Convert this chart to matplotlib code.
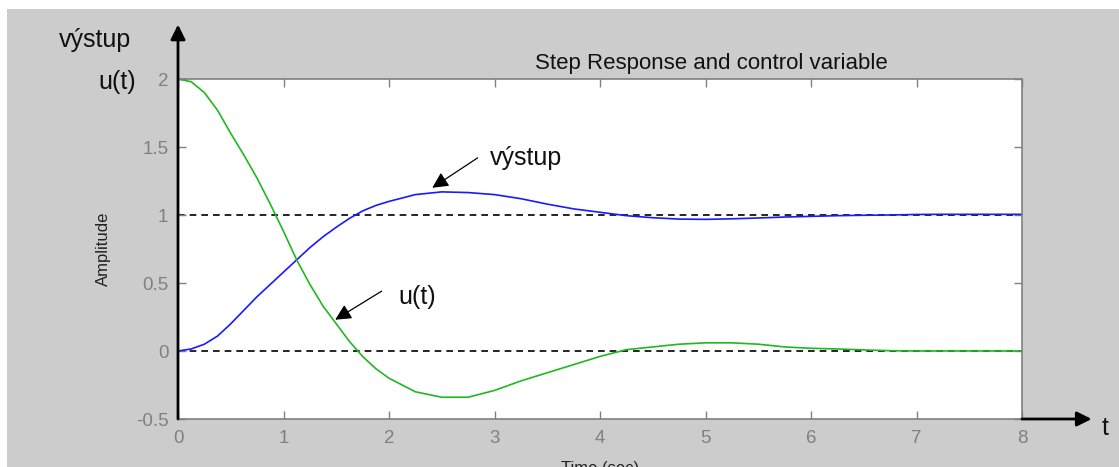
import numpy as np
import matplotlib
matplotlib.use("Agg")
import matplotlib.pyplot as plt
from matplotlib.patches import Rectangle

plt.rcParams['font.family'] = ['Liberation Sans', 'DejaVu Sans']

# ---- data ----
t = [0, 0.125, 0.25, 0.375, 0.5, 0.625, 0.75, 0.875, 1.0, 1.125, 1.25, 1.375, 1.5,
     1.625, 1.75, 1.875, 2.0, 2.25, 2.5, 2.75, 3.0, 3.25,
     3.5, 3.75, 4.0, 4.25, 4.5, 4.75, 5.0, 5.25, 5.5, 5.75, 6.0, 6.25, 6.5, 6.75,
     7.0, 7.25, 7.5, 7.75, 8.0]
vystup = [0.0, 0.015, 0.05, 0.11, 0.20, 0.30, 0.40, 0.49, 0.58, 0.67, 0.76, 0.84, 0.91,
          0.975, 1.03, 1.07, 1.10, 1.15, 1.17, 1.165,
          1.15, 1.12, 1.08, 1.045, 1.02, 0.995, 0.98, 0.97, 0.968, 0.972, 0.978,
          0.985, 0.99, 0.995, 0.998, 1.0, 1.004, 1.005, 1.005, 1.005, 1.005]
u = [2.0, 1.98, 1.90, 1.77, 1.60, 1.44, 1.27, 1.08, 0.88, 0.67, 0.49, 0.33, 0.20,
     0.07, -0.04, -0.13, -0.20, -0.30, -0.34, -0.34,
     -0.29, -0.22, -0.16, -0.10, -0.04, 0.01, 0.03, 0.05, 0.06, 0.06, 0.05, 0.03,
     0.02, 0.015, 0.008, 0.002, 0.0, 0.0, 0.0, 0.0, 0.0]
reference_levels = [0, 1]
xticks = [0, 1, 2, 3, 4, 5, 6, 7, 8]
yticks = [-0.5, 0, 0.5, 1, 1.5, 2]
ytick_labels = ['-0.5', '0', '0.5', '1', '1.5', '2']

W, H = 1119, 467
fig = plt.figure(figsize=(W / 100, H / 100), dpi=100)
fig.patch.set_facecolor('white')
fig.add_artist(Rectangle((7 / W, 0), 1 - 7 / W, 1 - 9 / H, transform=fig.transFigure,
                         facecolor='#cccccc', edgecolor='none', zorder=-10))

ax = fig.add_axes([178 / W, 1 - 419 / H, (1022 - 178) / W, (419 - 79) / H])
ax.set_facecolor('white')

for lvl in reference_levels:
    ax.plot([0, 8], [lvl, lvl], color='black', ls=(0, (4, 3)), lw=1.2, zorder=1)
ax.plot(t, vystup, color='#1a1aff', lw=1.2, zorder=2)
ax.plot(t, u, color='#1fb81f', lw=1.2, zorder=2)

ax.set_xlim(0, 8)
ax.set_ylim(-0.5, 2)
ax.set_xticks(xticks)
ax.set_yticks(yticks)
ax.set_yticklabels(ytick_labels)
ax.tick_params(direction='in', length=6, width=1, colors='#808080',
               labelsize=13.5, top=True, right=True)
ax.tick_params(axis='x', pad=8)
ax.tick_params(axis='y', pad=7)
for sp in ax.spines.values():
    sp.set_color('#808080')
    sp.set_linewidth(1.2)

ax.set_ylabel('Amplitude', fontsize=12, color='#222222', labelpad=18)
fig.text(600 / W, 1 - 461 / H, 'Time (sec)', ha='center', va='top', fontsize=12, color='#222222')

ax.text(711 / 105.5 - 178 / 105.5, 2.115, 'Step Response and control variable',
        ha='center', va='center', fontsize=16, color='#111111')

# big axis arrows
ax.annotate('', xy=(0, 2.40), xytext=(0, -0.5), annotation_clip=False,
            arrowprops=dict(arrowstyle='-|>', color='black', lw=2, mutation_scale=22,
                            shrinkA=0, shrinkB=0))
ax.annotate('', xy=(8.66, -0.5), xytext=(8, -0.5), annotation_clip=False,
            arrowprops=dict(arrowstyle='-|>', color='black', lw=2, mutation_scale=22,
                            shrinkA=0, shrinkB=0))
fig.text(95 / W, 1 - 40 / H, 'výstup', ha='center', va='center', fontsize=18, color='#111111')
fig.text(117 / W, 1 - 82 / H, 'u(t)', ha='center', va='center', fontsize=18, color='#111111')
fig.text(1105 / W, 1 - 428 / H, 't', ha='center', va='center', fontsize=18, color='#111111')

# curve annotations
ax.annotate('', xy=(2.41, 1.20), xytext=(2.84, 1.42),
            arrowprops=dict(arrowstyle='-|>', color='black', lw=0.9, mutation_scale=24,
                            shrinkA=0, shrinkB=0))
ax.text(2.96, 1.42, 'výstup', ha='left', va='center', fontsize=18, color='#111111')
ax.annotate('', xy=(1.49, 0.23), xytext=(1.93, 0.44),
            arrowprops=dict(arrowstyle='-|>', color='black', lw=0.9, mutation_scale=24,
                            shrinkA=0, shrinkB=0))
ax.text(2.085, 0.40, 'u(t)', ha='left', va='center', fontsize=18, color='#111111')

fig.savefig('out.png', dpi=100)
